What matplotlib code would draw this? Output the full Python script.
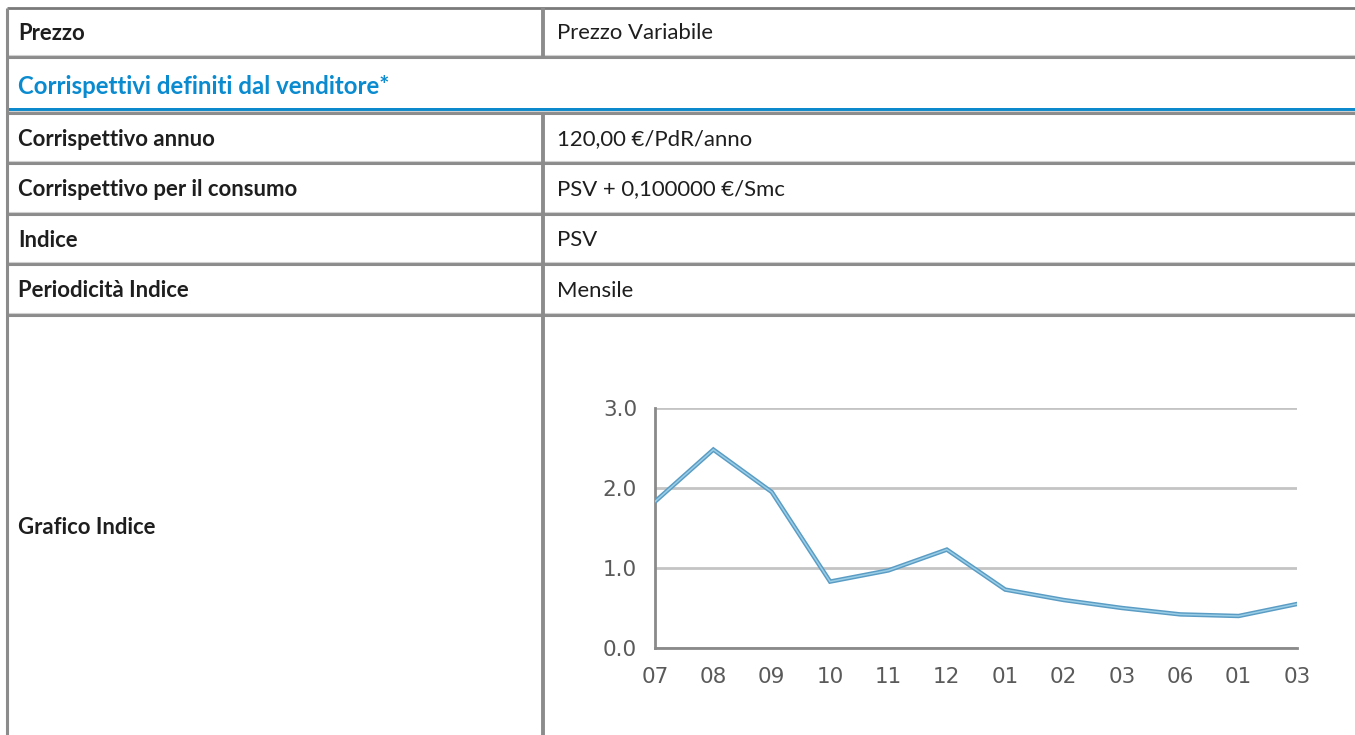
import matplotlib
matplotlib.use("Agg")
import matplotlib.pyplot as plt

# Righe della tabella (etichetta, valore)
row_labels = ["Prezzo", "Corrispettivo annuo", "Corrispettivo per il consumo",
              "Indice", "Periodicità Indice", "Grafico Indice"]
row_values = ["Prezzo Variabile", "120,00 €/PdR/anno", "PSV + 0,100000 €/Smc",
              "PSV", "Mensile", ""]
section_title = "Corrispettivi definiti dal venditore*"

# Serie del grafico indice PSV
months = ["07", "08", "09", "10", "11", "12", "01", "02", "03", "06", "01", "03"]
psv = [1.83, 2.48, 1.95, 0.83, 0.97, 1.23, 0.73, 0.60, 0.50, 0.42, 0.40, 0.55]
y_ticks = [0.0, 1.0, 2.0, 3.0]

W, H = 1355, 735
fig = plt.figure(figsize=(W / 100, H / 100), dpi=100)

# overlay in pixel per la tabella
tab = fig.add_axes([0, 0, 1, 1])
tab.set_xlim(0, W)
tab.set_ylim(H, 0)
tab.axis("off")

line_col = "#8c8c8c"
x_left, x_div = 7, 543
# bordi orizzontali (y in pixel)
row_edges = [8, 57, 113, 163, 214, 264, 315]

tab.plot([x_left, W], [8, 8], color="#7a7a7a", lw=2.0, solid_capstyle="butt")
for y in row_edges[1:]:
    tab.plot([x_left, W], [y, y], color=line_col, lw=2.2, solid_capstyle="butt")
    tab.plot([x_left, W], [y - 2, y - 2], color="#d0d0d0", lw=0.8, solid_capstyle="butt")
# barra blu sotto il titolo di sezione
tab.fill_between([x_left, W], 108, 113, color="#0b89cc", lw=0)

# bordo sinistro e divisore
tab.plot([x_left, x_left], [8, H], color=line_col, lw=2.2, solid_capstyle="butt")
tab.plot([x_div, x_div], [8, 57], color=line_col, lw=2.8, solid_capstyle="butt")
tab.plot([x_div, x_div], [113, H], color=line_col, lw=2.8, solid_capstyle="butt")

font = ["Lato", "DejaVu Sans"]
fs = 15.9
text_col = "#1e1e1e"

# riga prezzo
tab.text(18, 33, row_labels[0], fontsize=fs, fontweight="bold", family=font,
         color=text_col, va="center", ha="left")
tab.text(557, 33, row_values[0], fontsize=fs, family=font,
         color=text_col, va="center", ha="left")

# titolo sezione
tab.text(18, 86, section_title, fontsize=17.3, fontweight="bold", family=font,
         color="#0a8bd0", va="center", ha="left")

# altre righe
centers = [(row_edges[i] + row_edges[i + 1]) / 2 for i in range(2, len(row_edges) - 1)]
for lab, val, yc in zip(row_labels[1:5], row_values[1:5], centers):
    tab.text(18, yc + 1, lab, fontsize=fs, fontweight="bold", family=font,
             color=text_col, va="center", ha="left")
    tab.text(557, yc + 1, val, fontsize=fs, family=font,
             color=text_col, va="center", ha="left")

tab.text(18, 528, row_labels[5], fontsize=fs, fontweight="bold", family=font,
         color=text_col, va="center", ha="left")

# grafico
ax = fig.add_axes([655 / W, 87 / H, 642 / W, 240 / H])
x = list(range(len(months)))
ax.plot(x, psv, color="#5a9cc4", lw=3.2, solid_joinstyle="miter", zorder=3)
ax.plot(x, psv, color="#9acde6", lw=1.1, solid_joinstyle="miter", zorder=4)
ax.set_xlim(0, len(months) - 1)
ax.set_ylim(0, 3)
ax.set_yticks(y_ticks)
ax.set_yticklabels([f"{v:.1f}" for v in y_ticks])
ax.set_xticks(x)
ax.set_xticklabels(months)
ax.grid(axis="y", color="#c4c4c4", lw=2)
ax.set_axisbelow(True)
for s in ["top", "right"]:
    ax.spines[s].set_visible(False)
ax.spines["left"].set_color("#8a8a8a")
ax.spines["bottom"].set_color("#8a8a8a")
ax.spines["left"].set_linewidth(2)
ax.spines["bottom"].set_linewidth(2)
ax.tick_params(length=0, labelsize=15.5, labelcolor="#5a5a5a")
ax.tick_params(axis="y", pad=13)
ax.tick_params(axis="x", pad=14)

fig.savefig("out.png", dpi=100)
